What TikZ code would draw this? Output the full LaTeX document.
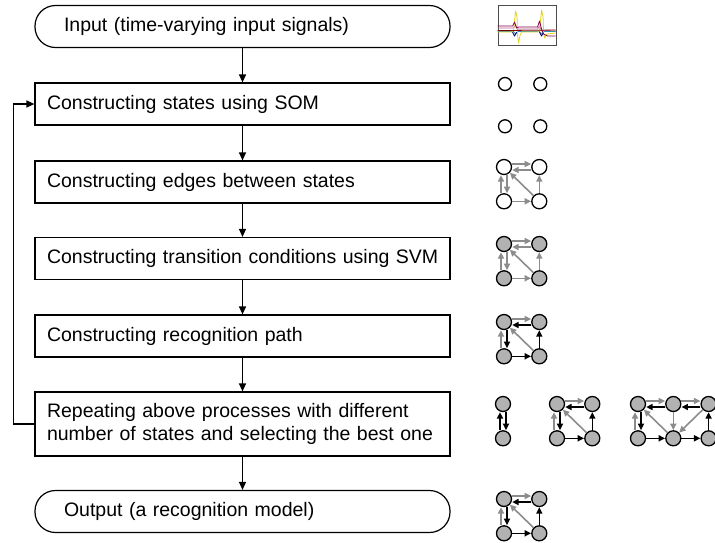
\documentclass[tikz,border=0pt]{standalone}
\usepackage{fontspec}
\setmainfont{Liberation Sans}
\usetikzlibrary{arrows.meta,positioning}
\tikzset{>={Triangle[length=8pt,width=7pt]}}
\colorlet{mygray}{black!45}
\colorlet{mystate}{black!30}
\colorlet{myyellow}{yellow!85!black}
\colorlet{mypurple}{violet!70!red!80!black}
\colorlet{mydarkred}{red!50!black}
\tikzstyle{process}=[draw,line width=1.2pt,minimum width=415pt,minimum height=42pt,
                     text width=391pt,inner xsep=12pt,align=left,
                     font=\fontsize{19.5}{22.5}\selectfont]
\tikzstyle{terminal}=[process,rounded corners=20.5pt,inner xsep=29pt,text width=357pt]
\tikzstyle{flow}=[->,line width=1.2pt]
\tikzstyle{state}=[circle,draw,line width=1.3pt,minimum size=15pt,inner sep=0pt,fill=mystate]
\tikzstyle{open state}=[state,fill=white]
\tikzstyle{som unit}=[open state,minimum size=13pt]
\tikzstyle{edge}=[-{Triangle[length=6.5pt,width=6pt]},line width=1.6pt]
\def\gdx{19pt}
\def\gdy{18pt}
\def\squaregraph#1#2#3#4{ % #1 name, #2 top left state, #3 state style, #4 colour of the path
  \node[#3] (#1tl) at (#2) {};
  \node[#3,right=\gdx of #1tl] (#1tr) {};
  \node[#3,below=\gdy of #1tl] (#1bl) {};
  \node[#3,below=\gdy of #1tr] (#1br) {};
  \draw[edge,mygray] ([yshift=3pt]#1tl.east) -- ([yshift=3pt]#1tr.west);
  \draw[edge,mygray] ([xshift=-3pt]#1bl.north) -- ([xshift=-3pt]#1tl.south);
  \draw[edge,mygray] (#1br) -- (#1tl);
  \draw[edge,#4] ([yshift=-3pt]#1tr.west) -- ([yshift=-3pt]#1tl.east);
  \draw[edge,#4] ([xshift=3pt]#1tl.south) -- ([xshift=3pt]#1bl.north);
  \draw[edge,#4] (#1bl) -- (#1br);
  \draw[edge,#4] (#1br) -- (#1tr);
}

\begin{document}
\begin{tikzpicture}[x=1pt,y=-1pt]
  \useasboundingbox (0,0) rectangle (715,542);

  % FLOW CHART
  \node[terminal] (input)  at (242.5,26.5) {Input (time-varying input signals)};
  \node[process]  (som)    at (242.5,104)  {Constructing states using SOM};
  \node[process]  (edges)  at (242.5,182)  {Constructing edges between states};
  \node[process]  (svm)    at (242.5,258.5) {\mbox{Constructing transition conditions using SVM}};
  \node[process]  (path)   at (242.5,336)  {Constructing recognition path};
  \node[process,minimum height=64pt] (repeat) at (242.5,424)
    {Repeating above processes with different\\number of states and selecting the best one};
  \node[terminal] (output) at (242.5,511.5) {Output (a recognition model)};

  \draw[flow] (input) -- (som);
  \draw[flow] (som) -- (edges);
  \draw[flow] (edges) -- (svm);
  \draw[flow] (svm) -- (path);
  \draw[flow] (path) -- (repeat);
  \draw[flow] (repeat) -- (output);
  \draw[flow] (repeat.west) -- ++(-21,0) |- (som.west); % loop back

  % INPUT SIGNALS
  \node[draw=black!70,line width=0.9pt,minimum width=58pt,minimum height=40pt,inner sep=0pt]
    (signal) at (527,25.5) {};
  \begin{scope}[shift={(signal.north west)},line width=0.8pt,line join=round]
    \clip (0,0) rectangle (58,40);
    \draw[mypurple!60] plot coordinates {(0,23) (16,23) (18,20) (20,24) (40,24) (42,21) (44,26) (58,26)};
    \draw[cyan!70!black] plot coordinates {(0,26.5) (16,26.5) (18,29) (20,26.5) (42,26.5) (44,29) (46,26.5) (58,26.5)};
    \draw[blue!40!black] plot coordinates {(15,27) (17,31) (19,27)} plot coordinates {(42,27) (44,31) (46,27)};
    \draw[myyellow] plot coordinates {(0,27) (14,27) (16,25) (18,6) (19.5,12) (20,30) (21,38) (22.5,30) (24,27)
                                      (40,27) (42,25) (44,5) (45.5,12) (46,27) (47,33) (49,29) (58,28)};
    \draw[mypurple] plot coordinates {(0,21) (15,21) (17,17) (19,23) (21,22) (40,22) (42,16) (44,24) (46,29) (50,31) (58,31)};
    \draw[mydarkred] plot coordinates {(0,25.5) (58,25)};
  \end{scope}

  % SOM STATES
  \node[som unit] (u1) at (505,84) {};
  \node[som unit,right=21pt of u1] (u2) {};
  \node[som unit,below=28pt of u1] (u3) {};
  \node[som unit,below=28pt of u2] (u4) {};

  % GRAPHS
  \squaregraph{e}{504,167}{open state}{mygray}
  \squaregraph{c}{504,244}{state}{mygray}
  \squaregraph{p}{504,322}{state}{black}
  \squaregraph{o}{504,499}{state}{black}

  % GRAPHS WITH 2, 4 AND 6 STATES
  \node[state] (a1) at (503,404) {};
  \node[state,below=\gdy of a1] (a2) {};
  \draw[edge] ([xshift=-3pt]a2.north) -- ([xshift=-3pt]a1.south);
  \draw[edge] ([xshift=3pt]a1.south) -- ([xshift=3pt]a2.north);

  \squaregraph{b}{557,404}{state}{black}

  \node[state] (ta) at (638,404) {};
  \node[state,right=\gdx of ta] (tb) {};
  \node[state,right=\gdx of tb] (tc) {};
  \node[state,below=\gdy of ta] (ba) {};
  \node[state,below=\gdy of tb] (bb) {};
  \node[state,below=\gdy of tc] (bc) {};
  \draw[edge,mygray] ([yshift=3pt]ta.east) -- ([yshift=3pt]tb.west);
  \draw[edge,mygray] ([yshift=3pt]tb.east) -- ([yshift=3pt]tc.west);
  \draw[edge,mygray] ([xshift=-3pt]ba.north) -- ([xshift=-3pt]ta.south);
  \draw[edge,mygray] (bb) -- (ta);
  \draw[edge,mygray] (tb) -- (bb);
  \draw[edge,mygray] (tc) -- (bb);
  \draw[edge] ([yshift=-3pt]tb.west) -- ([yshift=-3pt]ta.east);
  \draw[edge] ([yshift=-3pt]tc.west) -- ([yshift=-3pt]tb.east);
  \draw[edge] ([xshift=3pt]ta.south) -- ([xshift=3pt]ba.north);
  \draw[edge] (ba) -- (bb);
  \draw[edge] (bb) -- (bc);
  \draw[edge] (bc) -- (tc);
\end{tikzpicture}
\end{document}
